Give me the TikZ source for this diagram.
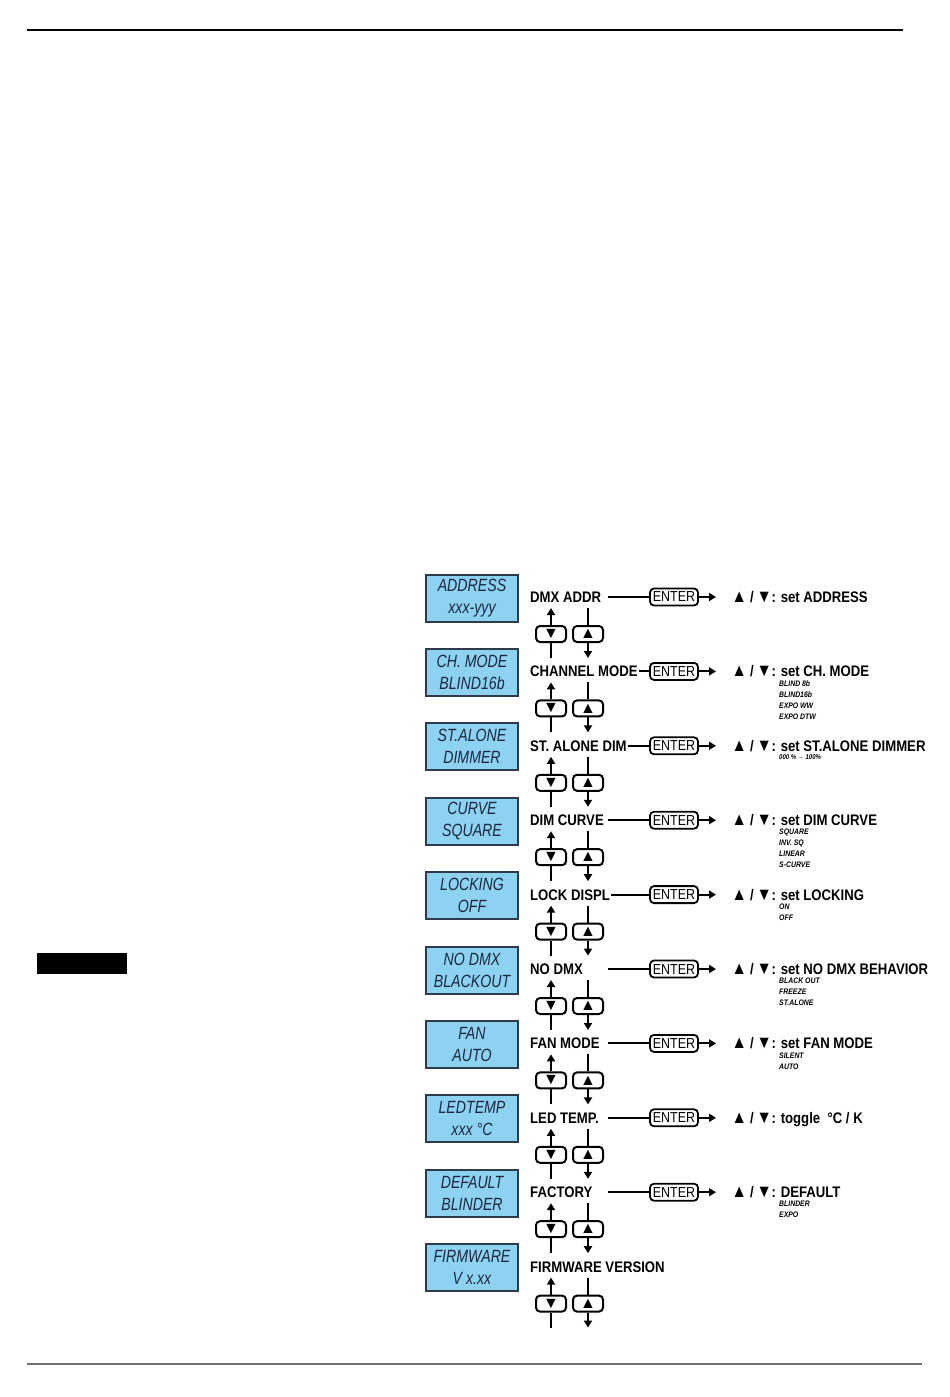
\documentclass[tikz,border=0pt]{standalone}
\usepackage{fontspec}
\setmainfont{Liberation Sans}
\newfontfamily\narrowsf[FakeStretch=0.86]{Liberation Sans}
\newfontfamily\lcdsf[FakeStretch=0.8]{Liberation Sans}
\usetikzlibrary{arrows.meta,calc}
\definecolor{lcdblue}{HTML}{8DD3F1}
\definecolor{lcdtext}{HTML}{1A2740}
\definecolor{lcdline}{HTML}{2E3B4B}
\definecolor{rulegray}{HTML}{6E6E6E}
\newcommand{\upmark}{{\fontsize{18}{18}\selectfont ▲}}
\newcommand{\dnmark}{{\fontsize{18}{18}\selectfont ▼}}
\newcommand{\keys}{\kern-1.5pt\upmark\kern3pt/\kern3pt\dnmark\kern-0.5pt:}

\tikzset{
  lcd/.style={draw=lcdline, line width=2pt, fill=lcdblue, minimum width=92pt, minimum height=47pt,
    inner sep=0pt, align=center, text=lcdtext, font=\lcdsf\itshape\fontsize{17.7}{22}\selectfont},
  menu/.style={anchor=base west, inner sep=1pt, font=\narrowsf\bfseries\fontsize{15.3}{17}\selectfont},
  enterbox/.style={draw, rounded corners=4pt, line width=1.8pt, minimum width=48pt, minimum height=17pt,
    inner sep=0pt, font=\narrowsf\fontsize{14.5}{16}\selectfont},
  setting/.style={anchor=base west, inner sep=0pt, font=\narrowsf\bfseries\fontsize{15.3}{17}\selectfont},
  choices/.style={anchor=north west, inner sep=0pt, align=left, font=\narrowsf\bfseries\itshape\fontsize{8}{11}\selectfont},
  btn/.style={draw, fill=white, rounded corners=4pt, line width=2pt, minimum width=30pt, minimum height=16pt,
    inner sep=0pt, font=\fontsize{16}{16}\selectfont},
  link/.style={line width=2pt},
  flow/.style={line width=2pt, -{Triangle[width=8pt,length=7pt]}},
}

\begin{document}
\begin{tikzpicture}[x=1pt, y=-1pt]
  \useasboundingbox (0,0) rectangle (950,1397);
  % page rules
  \draw[line width=1.8pt] (27,30) -- (903,30);
  \draw[rulegray, line width=2pt] (27,1364) -- (922,1364);
  \fill[black] (37,953) rectangle (127,974);

  % menu column
  \foreach \top/\bot/\lab [count=\k from 0] in {ADDRESS/xxx-yyy/DMX ADDR, CH. MODE/BLIND16b/CHANNEL MODE,
      ST.ALONE/DIMMER/ST. ALONE DIM, CURVE/SQUARE/DIM CURVE, LOCKING/OFF/LOCK DISPL,
      NO DMX/BLACKOUT/NO DMX, FAN/AUTO/FAN MODE, LEDTEMP/xxx °C/LED TEMP.,
      DEFAULT/BLINDER/FACTORY, FIRMWARE/V x.xx/FIRMWARE VERSION} {
    \pgfmathsetmacro\r{597+74.4*\k}
    \node[lcd] (lcd\k) at (472,\r+1) {\top\\\bot};
    \node[menu] (menu\k) at (529,\r+5.5) {\lab};
    \node[btn] (dn\k) at (551,\r+37) {▼};
    \node[btn] (up\k) at (588,\r+37) {▲};
    \coordinate (dntop\k) at (551,\r+11);
    \coordinate (dnbot\k) at (551,\r+61);
    \coordinate (uptop\k) at (588,\r+11);
    \coordinate (upbot\k) at (588,\r+61);
    \draw[link] (dnbot\k) -- (dn\k.south);
    \draw[flow] (dn\k.north) -- (dntop\k);
    \draw[link] (uptop\k) -- (up\k.north);
    \draw[flow] (up\k.south) -- (upbot\k);
  }

  % enter branches
  \foreach \k in {0,...,8} {
    \pgfmathsetmacro\r{597+74.4*\k}
    \node[enterbox] (enter\k) at (674,\r) {ENTER};
    \coordinate (tip\k) at (716,\r);
    \draw[link] let \p1=(menu\k.east), \p2=(enter\k.west) in ({max(\x1,608pt)},\y2) -- (enter\k.west);
    \draw[flow] (enter\k.east) -- (tip\k);
  }

  \node[setting] (set0) at (733,602.5) {\keys{} set ADDRESS};
  \node[setting] (set1) at (733,676.9) {\keys{} set CH. MODE};
  \node[setting] (set2) at (733,751.3) {\keys{} set ST.ALONE DIMMER};
  \node[setting] (set3) at (733,825.7) {\keys{} set DIM CURVE};
  \node[setting] (set4) at (733,900.1) {\keys{} set LOCKING};
  \node[setting] (set5) at (733,974.5) {\keys{} set NO DMX BEHAVIOR};
  \node[setting] (set6) at (733,1048.9) {\keys{} set FAN MODE};
  \node[setting] (set7) at (733,1123.3) {\keys{} toggle \ °C / K};
  \node[setting] (set8) at (733,1197.7) {\keys{} DEFAULT};

  \node[choices] (opt1) at (779,680.4) {BLIND 8b\\BLIND16b\\EXPO WW\\EXPO DTW};
  \node[choices, font=\narrowsf\bfseries\itshape\fontsize{7}{10}\selectfont] (opt2) at (779,754.8) {000 \% → 100\%};
  \node[choices] (opt3) at (779,829.2) {SQUARE\\INV. SQ\\LINEAR\\S-CURVE};
  \node[choices] (opt4) at (779,903.6) {ON\\OFF};
  \node[choices] (opt5) at (779,978) {BLACK OUT\\FREEZE\\ST.ALONE};
  \node[choices] (opt6) at (779,1052.4) {SILENT\\AUTO};
  \node[choices] (opt8) at (779,1201.2) {BLINDER\\EXPO};
\end{tikzpicture}
\end{document}
